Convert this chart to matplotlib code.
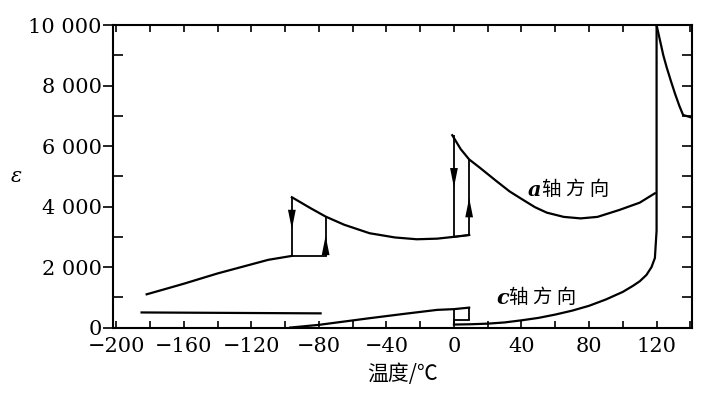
import matplotlib
matplotlib.use('Agg')
import matplotlib.pyplot as plt
from matplotlib.ticker import MultipleLocator

# a 轴方向: 三方相 / 正交相 / 四方相 / 立方相
a_rh_T = [-182, -170, -160, -150, -140, -130, -120, -110, -96]
a_rh_eps = [1100, 1290, 1450, 1620, 1790, 1940, 2090, 2240, 2370]
a_or_T = [-96, -85, -76, -65, -50, -35, -22, -10, 0, 9]
a_or_eps = [4310, 3950, 3670, 3400, 3120, 2980, 2920, 2940, 3000, 3060]
a_te_T = [-1, 4, 9, 15, 25, 33, 41, 48, 55, 65, 75, 85, 98, 110, 119]
a_te_eps = [6360, 5900, 5560, 5300, 4850, 4500, 4220, 3980, 3800, 3660, 3610, 3660, 3890, 4130, 4440]
cu_T = [120, 122, 124, 126, 128.5, 131, 133.5, 135.7, 141]
cu_eps = [10000, 9500, 9000, 8600, 8150, 7720, 7330, 7030, 6940]

# c 轴方向
c_rh_T = [-185, -79]
c_rh_eps = [500, 470]
c_or_T = [-97, -80, -65, -50, -30, -10, 0, 9]
c_or_eps = [0, 90, 200, 310, 450, 585, 610, 660]
c_te_T = [0, 10, 20, 30, 40, 50, 60, 70, 80, 90, 100, 106, 110, 114, 117, 119, 120, 120]
c_te_eps = [100, 110, 130, 170, 240, 320, 430, 560, 720, 930, 1180, 1380, 1530, 1740, 2000, 2300, 3200, 10000]

# 相变处的热滞 (升温/降温)
a_jump_T = [-96, -76, 0, 9]
a_jump_lo = [2370, 2370, 3000, 3060]
a_jump_hi = [4310, 3670, 6360, 5560]
arrow_T = [-96, -76, 0, 9]
arrow_eps = [3160, 3130, 4540, 4380]
arrow_dir = [-1, 1, -1, 1]

x_ticks = [-200, -160, -120, -80, -40, 0, 40, 80, 120]
x_labels = ['\u2212200', '\u2212160', '\u2212120', '\u221280', '\u221240', '0', '40', '80', '120']
y_ticks = [0, 2000, 4000, 6000, 8000, 10000]
y_labels = ['0', '2 000', '4 000', '6 000', '8 000', '10 000']

serif = ['DejaVu Serif', 'Noto Sans CJK SC']
cjk = ['Noto Sans CJK SC', 'DejaVu Serif']

fig = plt.figure(figsize=(7.19, 3.99), dpi=100)
ax = fig.add_axes([0.157, 0.179, 0.8055, 0.758])

lw = 1.6
k = 'black'
ax.plot(a_rh_T, a_rh_eps, color=k, lw=lw)
ax.plot(a_or_T, a_or_eps, color=k, lw=lw)
ax.plot(a_te_T, a_te_eps, color=k, lw=lw)
ax.plot(cu_T, cu_eps, color=k, lw=lw)
ax.plot(c_rh_T, c_rh_eps, color=k, lw=lw)
ax.plot(c_or_T, c_or_eps, color=k, lw=lw)
ax.plot(c_te_T, c_te_eps, color=k, lw=lw)

# a 轴热滞回线
ax.vlines(a_jump_T, a_jump_lo, a_jump_hi, color=k, lw=1.3)
ax.plot([a_jump_T[0], a_jump_T[1]], [a_jump_lo[0], a_jump_lo[1]], color=k, lw=1.3)
ax.plot([a_jump_T[2], a_jump_T[3]], [a_jump_lo[2], a_jump_lo[3]], color=k, lw=1.3)
for t, e, d in zip(arrow_T, arrow_eps, arrow_dir):
    ax.annotate('', xy=(t, e), xytext=(t, e - d * 600),
                arrowprops=dict(arrowstyle='-|>,head_length=1.0,head_width=0.2',
                                color=k, lw=0, mutation_scale=14))

# c 轴热滞
ax.vlines([0, 9], [c_te_eps[0], 250], [610, 660], color=k, lw=1.3)
ax.plot([0, 9], [250, 250], color=k, lw=1.3)

ax.text(43.5, 4550, 'a', fontsize=15, family=serif, style='italic', weight='bold', va='center')
ax.text(52, 4550, '轴 方 向', fontsize=14, family=cjk, va='center')
ax.text(25, 980, 'c', fontsize=15, family=serif, style='italic', weight='bold', va='center')
ax.text(32.5, 980, '轴 方 向', fontsize=14, family=cjk, va='center')

ax.set_xlim(-202, 141)
ax.set_ylim(0, 10000)
ax.set_xticks(x_ticks)
ax.set_xticklabels(x_labels, family=serif, fontsize=15)
ax.set_yticks(y_ticks)
ax.set_yticklabels(y_labels, family=serif, fontsize=15)
ax.xaxis.set_minor_locator(MultipleLocator(20))
ax.yaxis.set_minor_locator(MultipleLocator(1000))
ax.tick_params(axis='x', which='both', direction='in', top=True, length=5, width=1.2, pad=7)
ax.tick_params(axis='y', which='major', direction='out', length=7, width=1.2, pad=1)
ax.tick_params(axis='y', which='minor', direction='in', length=7, width=1.2)
ax.tick_params(axis='y', which='both', right=True)

# 右侧刻度朝内
for t in ax.yaxis.get_major_ticks():
    t.tick2line.set_marker(matplotlib.lines.TICKLEFT)

for s in ax.spines.values():
    s.set_linewidth(1.5)

ax.set_xlabel('温度/\u2103', family=cjk, fontsize=15, labelpad=5)
ax.set_ylabel('\u03b5', family=serif, fontsize=15, style='italic', rotation=0,
              ha='center', va='center')
ax.yaxis.set_label_coords(-0.166, 0.5)

fig.savefig('out.png', dpi=100)
